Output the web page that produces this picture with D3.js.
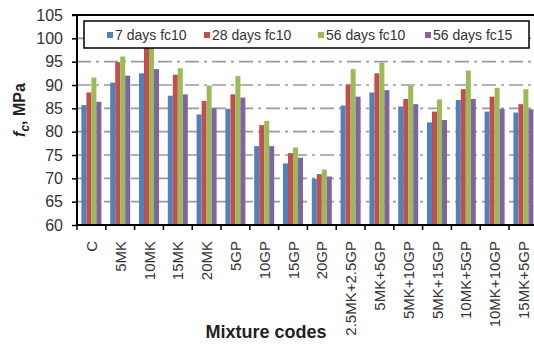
<!DOCTYPE html>
<html><head><meta charset="utf-8">
<script src="https://cdn.jsdelivr.net/npm/d3@7"></script>
<style>body{margin:0;background:#fff;overflow:hidden}svg{display:block}text{font-family:"Liberation Sans",Arial,sans-serif}</style>
</head><body><svg id="c" width="534" height="347"></svg>
<script>
const categories = ["C","5MK","10MK","15MK","20MK","5GP","10GP","15GP","20GP","2.5MK+2.5GP","5MK+5GP","5MK+10GP","5MK+15GP","10MK+5GP","10MK+10GP","15MK+5GP"];
const seriesNames = ["7 days fc10","28 days fc10","56 days fc10","56 days fc15"];
const days7fc10  = [85.7,90.5,92.5,87.7,83.7,84.9,76.9,73.2,69.9,85.6,88.4,85.4,82.0,86.8,84.3,84.1];
const days28fc10 = [88.4,94.9,98.5,92.2,86.6,88.0,81.4,75.4,70.9,90.1,92.5,87.0,84.3,89.1,87.5,85.9];
const days56fc10 = [91.6,96.1,99.0,93.6,89.9,91.9,82.3,76.6,71.9,93.4,94.8,89.8,86.9,93.1,89.4,89.1];
const days56fc15 = [86.4,92.0,93.4,88.0,85.0,87.3,76.9,74.4,70.4,87.5,88.9,85.9,82.5,87.0,84.9,84.8];
const yTicks = [60,65,70,75,80,85,90,95,100,105];
const colors = ["#4F81BD","#C0504D","#9BBB59","#8064A2"];
const series = [days7fc10, days28fc10, days56fc10, days56fc15];

const svg = d3.select("#c");
const mLeft = 77, mTop = 15, mBottom = 225;
const bandW = 28.8;
const mRight = mLeft + bandW * categories.length;
const x = d3.scaleBand().domain(categories).range([mLeft, mRight]).paddingInner(0).paddingOuter(0);
const y = d3.scaleLinear().domain([60,105]).range([mBottom, mTop]);
const xs = d3.scaleBand().domain(d3.range(4)).range([0, 20]);
const g0 = 4.4;

// gridlines
svg.append("g").selectAll("line").data(yTicks.filter(t => t > 60 && t < 105)).join("line")
  .attr("x1", mLeft).attr("x2", 534).attr("y1", d => y(d)).attr("y2", d => y(d))
  .attr("stroke", "#9a9a9a").attr("stroke-width", 1.6).attr("stroke-dasharray", "14,5,3,5");

// bars
const groups = svg.append("g").selectAll("g").data(categories).join("g")
  .attr("transform", d => `translate(${x(d) + g0},0)`);
groups.selectAll("rect").data((d, i) => series.map((s, k) => ({k, v: s[i]}))).join("rect")
  .attr("x", d => xs(d.k)).attr("width", xs.bandwidth())
  .attr("y", d => y(d.v)).attr("height", d => mBottom - y(d.v))
  .attr("fill", d => colors[d.k]);

// top border
svg.append("line").attr("x1", mLeft).attr("x2", 534).attr("y1", mTop).attr("y2", mTop).attr("stroke", "#000").attr("stroke-width", 2);

// y axis
const ya = svg.append("g").attr("transform", `translate(${mLeft},0)`)
  .call(d3.axisLeft(y).tickValues(yTicks).tickSize(5).tickPadding(9));
ya.select(".domain").attr("stroke", "#000").attr("stroke-width", 2).attr("d", `M-5,${mTop}H0V${mBottom}`);
ya.selectAll(".tick line").attr("stroke", "#000").attr("stroke-width", 1.5);
ya.selectAll(".tick text").attr("font-size", 16).attr("fill", "#333").attr("font-family", "Liberation Sans, Arial, sans-serif");

// x axis
const xa = svg.append("g").attr("transform", `translate(0,${mBottom})`)
  .call(d3.axisBottom(x).tickSize(0).tickFormat(""));
xa.select(".domain").attr("stroke", "#000").attr("stroke-width", 2).attr("d", `M${mLeft},0H534`);
xa.selectAll(".tick").remove();
const bounds = d3.range(categories.length + 1).map(i => mLeft + i * bandW);
svg.append("g").selectAll("line").data(bounds).join("line")
  .attr("x1", d => d).attr("x2", d => d).attr("y1", mBottom).attr("y2", mBottom + 5)
  .attr("stroke", "#000").attr("stroke-width", 1.5);
svg.append("g").selectAll("text").data(categories).join("text")
  .attr("transform", d => `translate(${x(d) + bandW / 2 + 5.5},${mBottom + 16}) rotate(-90)`)
  .attr("text-anchor", "end").attr("font-size", 15).attr("fill", "#333")
  .text(d => d);

// axis titles
svg.append("text").attr("x", 266).attr("y", 338).attr("text-anchor", "middle")
  .attr("font-size", 18).attr("font-weight", "bold").attr("fill", "#222").text("Mixture codes");
const yl = svg.append("text").attr("transform", "translate(25,110) rotate(-90)")
  .attr("text-anchor", "middle").attr("font-size", 16).attr("font-weight", "bold").attr("fill", "#222");
yl.append("tspan").attr("font-style", "italic").text("f");
yl.append("tspan").attr("font-style", "italic").attr("font-size", 12).attr("dy", 4).text("c");
yl.append("tspan").attr("dy", -4).text(", MPa");

// legend
svg.append("rect").attr("x", 84).attr("y", 21).attr("width", 445).attr("height", 27)
  .attr("fill", "#fff").attr("stroke", "#000").attr("stroke-width", 1.5);
const legX = [107, 204, 318, 425];
const lg = svg.append("g").selectAll("g").data(seriesNames).join("g")
  .attr("transform", (d, i) => `translate(${legX[i]},35)`);
lg.append("rect").attr("x", 0).attr("y", -3).attr("width", 6).attr("height", 6).attr("fill", (d, i) => colors[i]);
lg.append("text").attr("x", 8).attr("y", 5).attr("font-size", 14).attr("fill", "#333").text(d => d);
</script></body></html>
